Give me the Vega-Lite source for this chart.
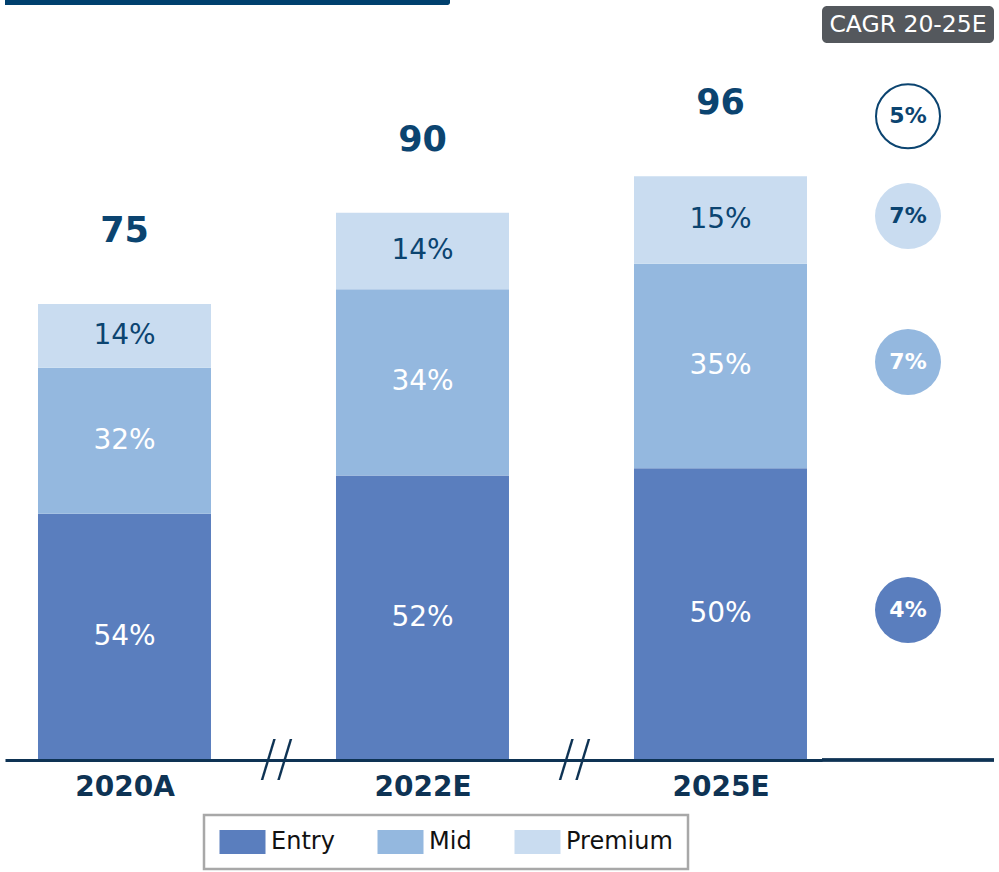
{
  "$schema": "https://vega.github.io/schema/vega-lite/v6.json",
  "padding": {"left": 5, "top": 0, "right": 0, "bottom": 0},
  "background": "white",
  "config": {"view": {"stroke": null}, "font": "DejaVu Sans", "legend": {"strokeWidth": 2.5, "strokeColor": "#a8a8a8"}},
  "datasets": {
    "main": [
      {"year": "2020A", "segment": "Entry", "value": 40.5, "pct": "54%"},
      {"year": "2020A", "segment": "Mid", "value": 24.0, "pct": "32%"},
      {"year": "2020A", "segment": "Premium", "value": 10.5, "pct": "14%"},
      {"year": "2022E", "segment": "Entry", "value": 46.8, "pct": "52%"},
      {"year": "2022E", "segment": "Mid", "value": 30.6, "pct": "34%"},
      {"year": "2022E", "segment": "Premium", "value": 12.6, "pct": "14%"},
      {"year": "2025E", "segment": "Entry", "value": 48.0, "pct": "50%"},
      {"year": "2025E", "segment": "Mid", "value": 33.6, "pct": "35%"},
      {"year": "2025E", "segment": "Premium", "value": 14.4, "pct": "15%"}
    ],
    "cagr": [
      {"segment": "Total", "cagr": "5%"},
      {"segment": "Premium", "cagr": "7%"},
      {"segment": "Mid", "cagr": "7%"},
      {"segment": "Entry", "cagr": "4%"}
    ],
    "breaks": [{"year": "b1", "mark": "//"}, {"year": "b2", "mark": "//"}]
  },
  "vconcat": [
    {
      "width": 445,
      "height": 5,
      "data": {"values": [{"banner": 1}]},
      "mark": {"type": "rect", "color": "#00406e", "cornerRadiusBottomRight": 5}
    },
    {
      "bounds": "flush",
      "hconcat": [
        {
          "width": 817,
          "height": 754,
          "data": {"name": "main"},
          "transform": [
            {"stack": "value", "groupby": ["year"], "sort": [{"field": "segment", "order": "ascending"}], "as": ["v0", "v1"]},
            {"calculate": "(datum.v0 + datum.v1) / 2", "as": "mid"}
          ],
          "encoding": {
            "x": {
              "field": "year",
              "type": "nominal",
              "scale": {"type": "point", "domain": ["2020A", "b1", "2022E", "b2", "2025E"], "padding": 0.7416, "align": 0.5407},
              "axis": {
                "title": null,
                "labelExpr": "datum.label[0] === 'b' ? '' : datum.label",
                "ticks": false,
                "grid": false,
                "domainColor": "#0e3354",
                "domainWidth": 3,
                "labelFont": "DejaVu Sans",
                "labelFontWeight": "bold",
                "labelFontSize": 28,
                "labelColor": "#0e3354",
                "labelPadding": 13,
                "labelAngle": 0,
                "zindex": 1
              }
            }
          },
          "layer": [
            {
              "mark": {"type": "bar", "width": 173},
              "encoding": {
                "y": {"field": "v1", "type": "quantitative", "scale": {"domain": [0, 124], "nice": false, "zero": true}, "axis": null},
                "y2": {"field": "v0"},
                "color": {
                  "field": "segment",
                  "type": "nominal",
                  "scale": {"domain": ["Entry", "Mid", "Premium"], "range": ["#5a7ebe", "#94b8df", "#c9dcf0"]},
                  "legend": {
                    "title": null,
                    "orient": "none",
                    "direction": "horizontal",
                    "legendX": 199,
                    "legendY": 815,
                    "padding": 15,
                    "strokeColor": "#a8a8a8",
                    "fillColor": "white",
                    "symbolType": "M-1,-1.04H3V1.04H-1Z",
                    "symbolSize": 529,
                    "symbolStrokeWidth": 0,
                    "symbolOpacity": 1,
                    "labelFont": "DejaVu Sans",
                    "labelFontSize": 24,
                    "labelColor": "#111111",
                    "labelOffset": 28,
                    "columnPadding": 42
                  }
                }
              }
            },
            {
              "mark": {"type": "text", "font": "DejaVu Sans", "fontSize": 28, "baseline": "middle"},
              "encoding": {
                "y": {"field": "mid", "type": "quantitative"},
                "text": {"field": "pct"},
                "color": {"condition": {"test": "datum.segment === 'Premium'", "value": "#0b4470"}, "value": "white"}
              }
            },
            {
              "transform": [{"aggregate": [{"op": "sum", "field": "value", "as": "total"}], "groupby": ["year"]}],
              "mark": {"type": "text", "font": "DejaVu Sans", "fontWeight": "bold", "fontSize": 35, "baseline": "middle", "dy": -73, "color": "#0b4470"},
              "encoding": {
                "y": {"field": "total", "type": "quantitative"},
                "text": {"field": "total", "type": "quantitative", "format": ".0f"}
              }
            },
            {
              "data": {"name": "breaks"},
              "mark": {"type": "text", "font": "DejaVu Sans", "fontWeight": 200, "fontSize": 49, "baseline": "middle", "dx": 3, "color": "#0e3354"},
              "encoding": {
                "y": {"datum": 0},
                "text": {"field": "mark"}
              }
            }
          ]
        },
        {
          "vconcat": [
            {
              "width": 172,
              "height": 37,
              "view": {"fill": "#54585d", "cornerRadius": 5, "stroke": null},
              "data": {"values": [{"label": "CAGR 20-25E"}]},
              "mark": {"type": "text", "font": "DejaVu Sans", "fontSize": 23.5, "color": "white", "baseline": "middle"},
              "encoding": {"text": {"field": "label"}}
            },
            {
              "width": 172,
              "height": 717,
              "data": {"name": "main"},
              "transform": [
                {"filter": "datum.year === '2025E'"},
                {"stack": "value", "groupby": ["year"], "sort": [{"field": "segment", "order": "ascending"}], "as": ["v0", "v1"]},
                {"calculate": "(datum.v0 + datum.v1) / 2", "as": "mid"},
                {"lookup": "segment", "from": {"data": {"name": "cagr"}, "key": "segment", "fields": ["cagr"]}}
              ],
              "layer": [
                {
                  "mark": {"type": "rule", "color": "#0e3354", "strokeWidth": 3},
                  "encoding": {"y": {"datum": 0, "type": "quantitative", "scale": {"domain": [0, 117.93], "nice": false}, "axis": null}}
                },
                {
                  "mark": {"type": "point", "shape": "circle", "filled": true, "size": 4356, "opacity": 1, "yOffset": -4},
                  "encoding": {
                    "y": {"field": "mid", "type": "quantitative"},
                    "color": {"field": "segment", "type": "nominal"}
                  }
                },
                {
                  "mark": {"type": "text", "font": "DejaVu Sans", "fontWeight": "bold", "fontSize": 22, "baseline": "middle", "yOffset": -4},
                  "encoding": {
                    "y": {"field": "mid", "type": "quantitative"},
                    "text": {"field": "cagr"},
                    "color": {"condition": {"test": "datum.segment === 'Premium'", "value": "#0b4470"}, "value": "white"}
                  }
                },
                {
                  "transform": [
                    {"aggregate": [{"op": "sum", "field": "value", "as": "total"}], "groupby": ["year"]},
                    {"calculate": "'Total'", "as": "segment"},
                    {"lookup": "segment", "from": {"data": {"name": "cagr"}, "key": "segment", "fields": ["cagr"]}}
                  ],
                  "layer": [
                    {
                      "mark": {"type": "point", "shape": "circle", "filled": true, "fill": "white", "stroke": "#0b4470", "strokeWidth": 2, "size": 4096, "yOffset": -60, "opacity": 1},
                      "encoding": {"y": {"field": "total", "type": "quantitative"}}
                    },
                    {
                      "mark": {"type": "text", "font": "DejaVu Sans", "fontWeight": "bold", "fontSize": 22, "baseline": "middle", "yOffset": -60, "color": "#0b4470"},
                      "encoding": {"y": {"field": "total", "type": "quantitative"}, "text": {"field": "cagr"}}
                    }
                  ]
                }
              ]
            }
          ],
          "spacing": 0
        }
      ],
      "spacing": 0
    }
  ],
  "spacing": 1
}
